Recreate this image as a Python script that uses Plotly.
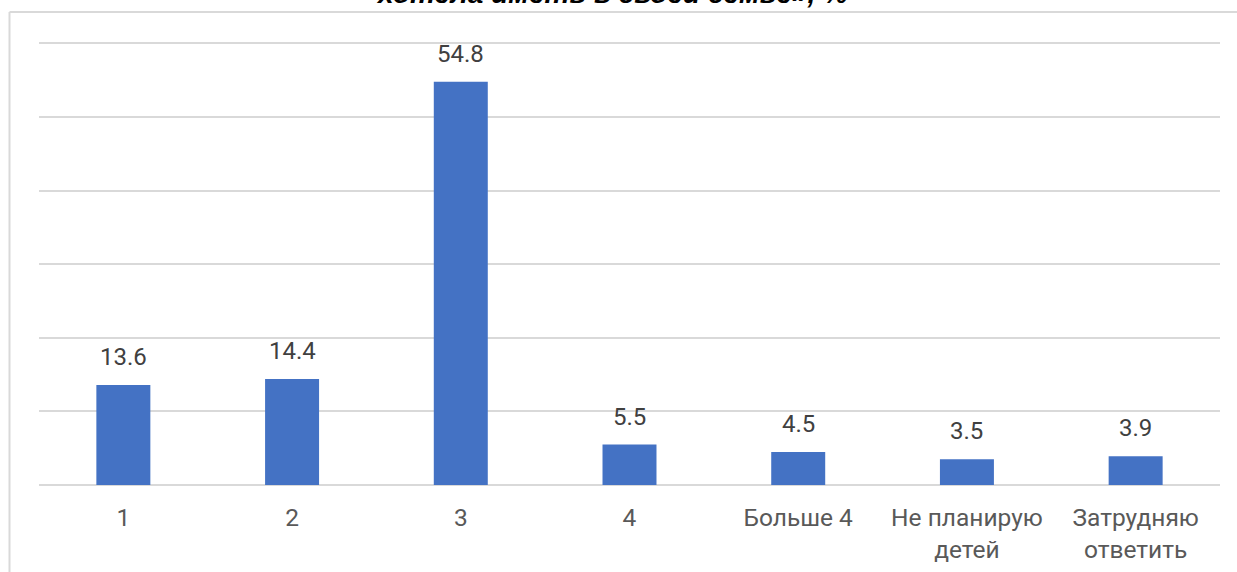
import plotly.graph_objects as go

categories = ["1", "2", "3", "4", "Больше 4", "Не планирую<br>детей", "Затрудняю<br>ответить"]
values = [13.6, 14.4, 54.8, 5.5, 4.5, 3.5, 3.9]
title_text = "хотела иметь в своей семье», %"

W, H = 1237, 572
L, R, T, B = 39, 17, 42, 87
pw, ph = W - L - R, H - T - B

def px_x(x):
    return (x - L) / pw

def px_y(y):
    return (H - B - y) / ph

fig = go.Figure()
fig.add_trace(go.Bar(
    x=categories, y=values,
    marker=dict(color="#4472C4", line=dict(width=0)),
    width=0.32,
    cliponaxis=False,
))

# data labels: x given as category index on the categorical axis
label_annotations = [
    dict(x=i, y=v, text=f"{v:.1f}", xref="x", yref="y",
         showarrow=False, yanchor="middle", xanchor="center", yshift=28,
         font=dict(size=24, color="#404040", family="Roboto"))
    for i, v in enumerate(values)
]

fig.update_layout(
    width=W, height=H,
    margin=dict(l=L, r=R, t=T, b=B, autoexpand=False),
    paper_bgcolor="white", plot_bgcolor="white",
    showlegend=False,
    font=dict(family="Roboto", color="#595959"),
    xaxis=dict(
        type="category",
        tickfont=dict(size=24.5, color="#595959"),
        showgrid=False, showline=False, zeroline=False,
        ticks="outside", ticklen=11, tickcolor="rgba(0,0,0,0)",
        automargin=False,
    ),
    yaxis=dict(
        range=[0, 60.2], tickvals=[0, 10, 20, 30, 40, 50, 60],
        showticklabels=False,
        showgrid=True, gridcolor="#d9d9d9", gridwidth=2,
        zeroline=True, zerolinecolor="#d9d9d9", zerolinewidth=2,
        showline=False, automargin=False,
    ),
    annotations=label_annotations + [dict(
        text="<b><i>" + title_text + "</i></b>",
        xref="paper", yref="paper",
        x=px_x(612), y=px_y(-7),
        xanchor="center", yanchor="middle",
        showarrow=False,
        font=dict(size=28, color="#000000", family="Liberation Sans"),
    )],
    shapes=[
        dict(type="line", xref="paper", yref="paper",
             x0=px_x(9.5), x1=px_x(1260), y0=px_y(12), y1=px_y(12),
             line=dict(color="#d9d9d9", width=2)),
        dict(type="line", xref="paper", yref="paper",
             x0=px_x(9.5), x1=px_x(9.5), y0=px_y(12), y1=px_y(600),
             line=dict(color="#d9d9d9", width=2)),
    ],
)

fig.write_html("out.html", config={"displayModeBar": False},
               post_script="document.body.style.margin='0';document.body.style.overflow='hidden';")
